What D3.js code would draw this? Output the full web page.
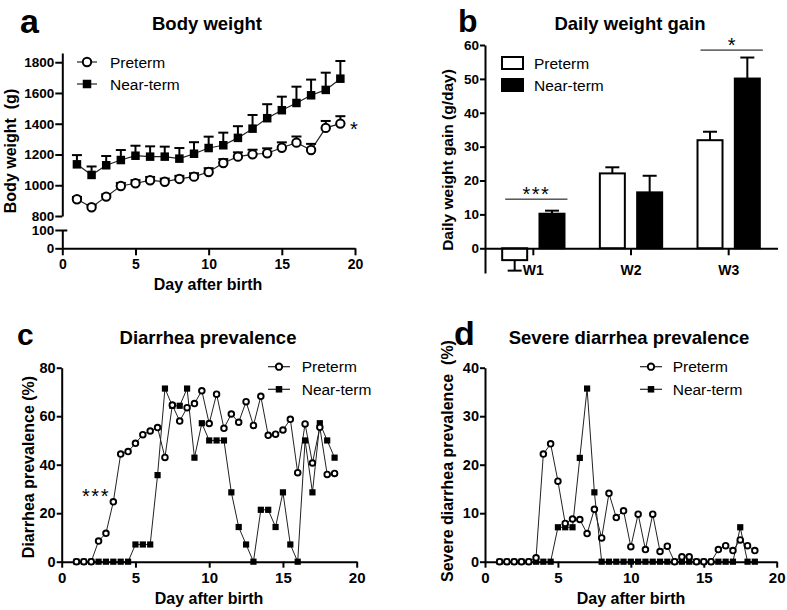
<!DOCTYPE html>
<html><head><meta charset="utf-8">
<script src="https://cdn.jsdelivr.net/npm/d3@7"></script>
<style>
body{margin:0;background:#fff;}
svg{display:block;background:#fff;}
</style></head><body>
<svg id="chart" width="787" height="610"></svg>
<script>
// ---------- DATA ----------
// Panel a: body weight (g), mean and SEM
const bwDays = [1,2,3,4,5,6,7,8,9,10,11,12,13,14,15,16,17,18,19];
const bwPreterm   = [909,857,926,995,1013,1032,1023,1041,1056,1086,1145,1186,1201,1208,1244,1277,1229,1373,1401];
const bwPretermSE = [15,15,15,20,20,22,20,20,22,25,25,28,30,32,35,40,40,45,48];
const bwNearterm   = [1136,1067,1130,1164,1192,1186,1186,1173,1205,1242,1260,1308,1368,1436,1488,1535,1585,1620,1693];
const bwNeartermSE = [60,55,60,65,65,67,65,69,75,74,82,76,89,91,88,106,102,112,115];
const bwUpperTicks = [800,1000,1200,1400,1600,1800];
const bwLowerTicks = [0,100];
const dayTicks = [0,5,10,15,20];

// Panel b: daily weight gain (g/day)
const weeks = ["W1","W2","W3"];
const groups = ["Preterm","Near-term"];
const gainPreterm = [-3.5,22.1,31.9];
const gainPretermSE = [3.1,1.8,2.5];
const gainNearterm = [10.2,16.5,50.1];
const gainNeartermSE = [0.9,4.9,6.2];
const gainTicks = [0,10,20,30,40,50,60];
const sigWeeks = ["W1","W3"];
const sigLabels = ["***","*"];
const sigLevels = [14.5,58.5];

// Panels c, d: prevalence (%) by half day
const halfDays = [1,1.5,2,2.5,3,3.5,4,4.5,5,5.5,6,6.5,7,7.5,8,8.5,9,9.5,10,10.5,11,11.5,12,12.5,13,13.5,14,14.5,15,15.5,16,16.5,17,17.5,18,18.5];
const diarPreterm = [0,0,0,8.5,11.7,24.7,44.4,45.4,48.8,52.4,53.9,55.3,43.0,64.6,58.0,63.5,65.2,70.5,57.0,69.1,55.0,60.9,57.5,66.0,56.2,68.2,52.1,52.6,54.3,58.7,36.7,56.8,40.7,55.4,36.0,36.4];
const diarNearterm = [0,0,0,0,0,0,0,0,7.1,7.1,7.1,35.7,71.4,64.3,64.3,71.4,42.9,57.1,50,50,50,28.6,14.3,7.1,0,21.4,21.4,14.3,28.6,7.1,0,50,28.6,57.1,50,42.9];
const diarTicks = [0,20,40,60,80];
const sevPreterm = [0,0,0,0,0,0.8,22.2,24.3,16.6,7.9,8.8,8.7,5.8,10.8,4.9,14.1,9.1,10.5,3.1,9.8,2.5,9.8,2.1,3.2,0,1.0,1.0,0,0,0,2.5,3.3,2.3,4.5,3.3,2.3];
const sevNearterm = [0,0,0,0,0,0,0,0,7.1,7.1,7.1,21.4,35.7,14.3,0,0,0,0,0,0,0,0,0,0,0,0,0,0,0,0,0,0,0,7.1,0,0];
const sevTicks = [0,10,20,30,40];

// ---------- DRAWING ----------
const FONT = '"Liberation Sans", Arial, Helvetica, sans-serif';
const svg = d3.select("#chart").attr("font-family", FONT);
const fmt = d3.format("d");

function styleAxis(g, fs){
  g.attr("font-family", FONT).attr("font-size", fs).attr("font-weight","bold");
  g.select(".domain").attr("stroke","#000").attr("stroke-width",2);
  g.selectAll(".tick line").attr("stroke","#000").attr("stroke-width",2);
  g.selectAll(".tick text").attr("fill","#000");
}
function text(x,y,str,opts){
  const t = svg.append("text").attr("x",x).attr("y",y).text(str).attr("fill","#000");
  Object.entries(opts||{}).forEach(([k,v])=>t.attr(k,v));
  return t;
}
function ylabel(x,y,str,fs){
  svg.append("text").attr("transform",`translate(${x},${y}) rotate(-90)`)
    .attr("text-anchor","middle").attr("font-size",fs).attr("font-weight","bold")
    .attr("fill","#000").text(str);
}
function circleMarker(g, x, y, r, sw){
  g.append("circle").attr("cx",x).attr("cy",y).attr("r",r)
    .attr("fill","#fff").attr("stroke","#000").attr("stroke-width",sw);
}
function squareMarker(g, x, y, s){
  g.append("rect").attr("x",x-s/2).attr("y",y-s/2).attr("width",s).attr("height",s).attr("fill","#000");
}

// ===== Panel a =====
const xA = d3.scaleLinear([0,20],[62.3,355]);
const yAu = d3.scaleLinear([800,1860],[216,53]);
const yAl = d3.scaleLinear([0,100],[248.3,230]);

let g = svg.append("g").attr("transform",`translate(${xA(0)},0)`)
  .call(d3.axisLeft(yAu).tickValues(bwUpperTicks).tickFormat(fmt).tickSize(7).tickPadding(1).tickSizeOuter(0));
styleAxis(g, 13.5);
g = svg.append("g").attr("transform",`translate(${xA(0)},0)`)
  .call(d3.axisLeft(yAl).tickValues(bwLowerTicks).tickFormat(fmt).tickSize(7).tickPadding(1).tickSizeOuter(0));
styleAxis(g, 13.5);
g.selectAll(".tick").filter(d=>d===100).select("line").attr("x2",5).attr("x1",-7);
g = svg.append("g").attr("transform",`translate(0,${yAl(0)})`)
  .call(d3.axisBottom(xA).tickValues(dayTicks).tickSize(7).tickPadding(4).tickSizeOuter(0));
styleAxis(g, 14);

const gA = svg.append("g");
function seriesA(vals, se, kind){
  const pts = bwDays.map((d,i)=>[xA(d), yAu(vals[i]), yAu(vals[i]+se[i])]);
  gA.append("path").attr("d", d3.line()(pts.map(p=>[p[0],p[1]])))
    .attr("fill","none").attr("stroke","#222").attr("stroke-width",1.2);
  pts.forEach(p=>{
    gA.append("line").attr("x1",p[0]).attr("x2",p[0]).attr("y1",p[1]).attr("y2",p[2]).attr("stroke","#000").attr("stroke-width",2);
    gA.append("line").attr("x1",p[0]-5).attr("x2",p[0]+5).attr("y1",p[2]).attr("y2",p[2]).attr("stroke","#000").attr("stroke-width",2);
  });
  pts.forEach(p=>{
    if(kind==="c") circleMarker(gA,p[0],p[1],4.2,2); else squareMarker(gA,p[0],p[1],8.5);
  });
}
seriesA(bwNearterm, bwNeartermSE, "s");
seriesA(bwPreterm, bwPretermSE, "c");

// legend a
gA.append("line").attr("x1",77).attr("x2",97).attr("y1",62).attr("y2",62).attr("stroke","#222").attr("stroke-width",1.2);
circleMarker(gA,87,62,4.2,2);
gA.append("line").attr("x1",77).attr("x2",97).attr("y1",84).attr("y2",84).attr("stroke","#222").attr("stroke-width",1.2);
squareMarker(gA,87,84,8.5);
text(110,67.5,"Preterm",{"font-size":15.5});
text(110,89.5,"Near-term",{"font-size":15.5});
text(354, 136, "*", {"font-size":20,"text-anchor":"middle"});

text(20,33,"a",{"font-size":34,"font-weight":"bold"});
text(207,29.5,"Body weight",{"font-size":18.5,"font-weight":"bold","text-anchor":"middle"});
text(208,290,"Day after birth",{"font-size":16,"font-weight":"bold","text-anchor":"middle"});
ylabel(15.5,151,"Body weight\u00a0\u00a0(g)",16);

// ===== Panel b =====
const xB = d3.scaleBand(weeks,[484.5,777.5]);
const xSub = d3.scaleBand(groups,[xB.bandwidth()*0.181, xB.bandwidth()*0.819]).paddingInner(0.33);
const yB = d3.scaleLinear([-7.3,60],[273,45]);

const gB = svg.append("g");
const gainVals = {"Preterm":gainPreterm,"Near-term":gainNearterm};
const gainSE = {"Preterm":gainPretermSE,"Near-term":gainNeartermSE};
weeks.forEach((w,i)=>{
  groups.forEach(gr=>{
    const v = gainVals[gr][i], e = gainSE[gr][i];
    const x0 = xB(w)+xSub(gr), bw = xSub.bandwidth(), cx = x0+bw/2;
    const end = v>=0 ? v+e : v-e;
    gB.append("line").attr("x1",cx).attr("x2",cx).attr("y1",yB(v)).attr("y2",yB(end)).attr("stroke","#000").attr("stroke-width",2);
    gB.append("line").attr("x1",cx-7).attr("x2",cx+7).attr("y1",yB(end)).attr("y2",yB(end)).attr("stroke","#000").attr("stroke-width",2);
    gB.append("rect").attr("x",x0).attr("width",bw)
      .attr("y",yB(Math.max(0,v))).attr("height",Math.abs(yB(v)-yB(0)))
      .attr("fill", gr==="Preterm" ? "#fff" : "#000").attr("stroke","#000").attr("stroke-width",2);
  });
});
g = svg.append("g").attr("transform",`translate(485,0)`)
  .call(d3.axisLeft(yB).tickValues(gainTicks).tickSize(5).tickPadding(1).tickSizeOuter(0));
styleAxis(g, 13.5);
g = svg.append("g").attr("transform",`translate(0,${yB(0)})`)
  .call(d3.axisBottom(xB).tickSize(7).tickPadding(10).tickSizeOuter(0));
styleAxis(g, 14);

sigWeeks.forEach((w,i)=>{
  const x1 = xB(w)+xSub("Preterm")+3, x2 = xB(w)+xSub("Near-term")+xSub.bandwidth()+3;
  const y = yB(sigLevels[i]);
  gB.append("line").attr("x1",x1).attr("x2",x2).attr("y1",y).attr("y2",y).attr("stroke","#000").attr("stroke-width",1);
  text((x1+x2)/2, y+1.5, sigLabels[i], {"font-size":20,"text-anchor":"middle","letter-spacing": sigLabels[i].length>1 ? 1.5 : 0});
});

// legend b
gB.append("rect").attr("x",502).attr("y",57).attr("width",21).attr("height",12).attr("fill","#fff").attr("stroke","#000").attr("stroke-width",2);
gB.append("rect").attr("x",502).attr("y",79).attr("width",21).attr("height",12).attr("fill","#000").attr("stroke","#000").attr("stroke-width",2);
text(534,68.5,"Preterm",{"font-size":15.5});
text(534,91,"Near-term",{"font-size":15.5});

text(458,32,"b",{"font-size":32,"font-weight":"bold"});
text(630,29.5,"Daily weight gain",{"font-size":18.5,"font-weight":"bold","text-anchor":"middle"});
ylabel(453,160,"Daily weight gain (g/day)",15.5);

// ===== Panels c & d =====
function prevPanel(x0, x1, yMax, ticks, pre, near){
  const x = d3.scaleLinear([0,20],[x0,x1]);
  const y = d3.scaleLinear([0,yMax],[561.7,367.7]);
  let ga = svg.append("g").attr("transform",`translate(${x0},0)`)
    .call(d3.axisLeft(y).tickValues(ticks).tickSize(5).tickPadding(1).tickSizeOuter(0));
  styleAxis(ga, 14.5);
  ga = svg.append("g").attr("transform",`translate(0,${y(0)})`)
    .call(d3.axisBottom(x).tickValues(dayTicks).tickSize(6).tickPadding(4.5).tickSizeOuter(0));
  styleAxis(ga, 15);
  const gp = svg.append("g");
  const line = d3.line().x((d,i)=>x(halfDays[i])).y(d=>y(d));
  gp.append("path").attr("d",line(near)).attr("fill","none").attr("stroke","#222").attr("stroke-width",1);
  gp.append("path").attr("d",line(pre)).attr("fill","none").attr("stroke","#222").attr("stroke-width",1);
  near.forEach((v,i)=>squareMarker(gp,x(halfDays[i]),y(v),6.2));
  pre.forEach((v,i)=>circleMarker(gp,x(halfDays[i]),y(v),2.8,1.9));
  return {x,y,gp};
}
function prevLegend(gp, lx, tx){
  gp.append("line").attr("x1",lx).attr("x2",lx+22).attr("y1",366.7).attr("y2",366.7).attr("stroke","#222").attr("stroke-width",1.2);
  circleMarker(gp,lx+11,366.7,3.2,1.9);
  gp.append("line").attr("x1",lx).attr("x2",lx+22).attr("y1",389.3).attr("y2",389.3).attr("stroke","#222").attr("stroke-width",1.2);
  squareMarker(gp,lx+11,389.3,6.5);
  text(tx,371.8,"Preterm",{"font-size":15.5});
  text(tx,394.5,"Near-term",{"font-size":15.5});
}

const pc = prevPanel(61.7,356.7,80,diarTicks,diarPreterm,diarNearterm);
prevLegend(pc.gp, 268, 301.7);
text(96,502.5,"***",{"font-size":20,"text-anchor":"middle","letter-spacing":1.5});
text(17,345,"c",{"font-size":30,"font-weight":"bold"});
text(208,344,"Diarrhea prevalence",{"font-size":18.5,"font-weight":"bold","text-anchor":"middle"});
text(209,604,"Day after birth",{"font-size":16,"font-weight":"bold","text-anchor":"middle"});
ylabel(33.5,467,"Diarrhea prevalence (%)",16);

const pd = prevPanel(485,776.7,40,sevTicks,sevPreterm,sevNearterm);
prevLegend(pd.gp, 640, 672.7);
ylabel(453,461,"Severe diarrhea prevalence\u00a0\u00a0(%)",16);
text(454,345,"d",{"font-size":34,"font-weight":"bold"});
text(629,344,"Severe diarrhea prevalence",{"font-size":18.5,"font-weight":"bold","text-anchor":"middle"});
text(631,604,"Day after birth",{"font-size":16,"font-weight":"bold","text-anchor":"middle"});
</script>
</body></html>
